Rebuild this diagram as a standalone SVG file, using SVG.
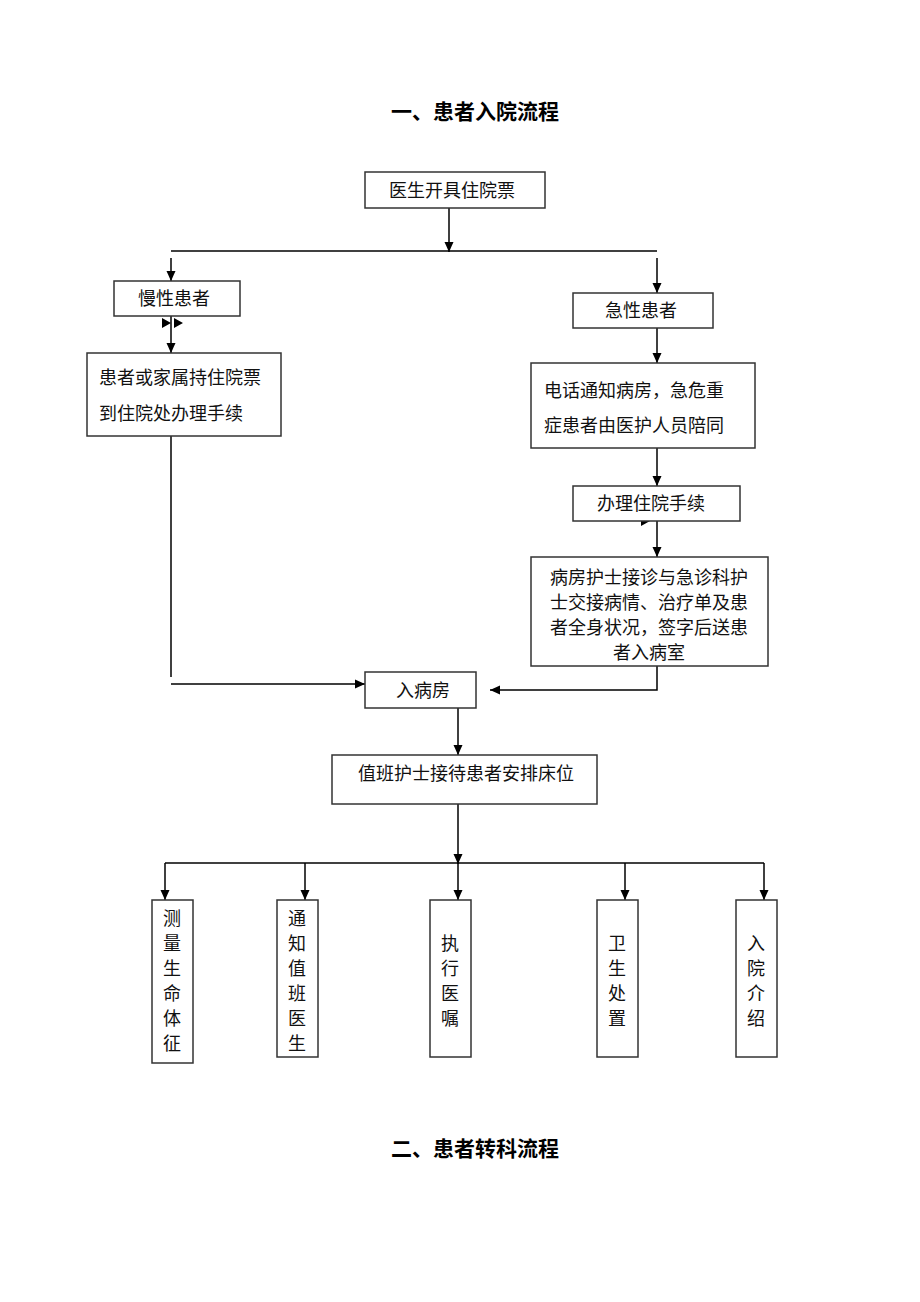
<svg xmlns="http://www.w3.org/2000/svg" width="920" height="1302" viewBox="0 0 920 1302">
<defs>
<marker id="ah" viewBox="0 0 10 10" refX="10" refY="5" markerWidth="10" markerHeight="10" markerUnits="userSpaceOnUse" orient="auto"><path d="M0,0.5 L10,5 L0,9.5 Z" fill="#000"/></marker>
</defs>
<style>
.t{font-family:"Noto Sans CJK SC","Noto Sans",sans-serif;font-size:18px;fill:#111}
.h{font-family:"Noto Sans CJK SC","Noto Sans",sans-serif;font-size:21px;font-weight:bold;fill:#000}
.b{fill:#fff;stroke:#333;stroke-width:1.5}
.c{fill:none;stroke:#000;stroke-width:1.5}
.a{fill:none;stroke:#000;stroke-width:1.5;marker-end:url(#ah)}
</style>
<rect width="920" height="1302" fill="#fff"/>
<text class="h" x="475" y="119" text-anchor="middle">一、患者入院流程</text>
<text class="h" x="475" y="1156" text-anchor="middle">二、患者转科流程</text>

<g id="connectors">
<path class="a" d="M449,208 V252"/>
<path class="c" d="M171,251 H657"/>
<path class="a" d="M171,258 V281"/>
<path class="a" d="M657,258 V293"/>
<path class="a" d="M171,316 V353"/>
<path d="M162,318 L171,323 L162,328 Z M174,318 L183,323 L174,328 Z" fill="#000"/>
<path class="c" d="M171,436 V677"/>
<path class="a" d="M171,684 H365"/>
<path class="a" d="M657,328 V363"/>
<path class="a" d="M657,448 V486"/>
<path d="M641,516 L650,521 L641,526 Z" fill="#000"/>
<path class="a" d="M657,521 V557"/>
<path class="a" d="M657,666 V690 H490"/>
<path class="a" d="M458,708 V755"/>
<path class="a" d="M458,804 V864"/>
<path class="c" d="M165,863 H764"/>
<path class="a" d="M165,863 V900"/>
<path class="a" d="M305,863 V900"/>
<path class="a" d="M458,863 V900"/>
<path class="a" d="M625,863 V900"/>
<path class="a" d="M764,863 V900"/>
</g>

<g id="n1"><rect class="b" x="365" y="172" width="180" height="36"/><text class="t" x="452" y="197" text-anchor="middle">医生开具住院票</text></g>
<g id="n2"><rect class="b" x="114" y="281" width="126" height="35"/><text class="t" x="174" y="305" text-anchor="middle">慢性患者</text></g>
<g id="n3"><rect class="b" x="573" y="293" width="140" height="35"/><text class="t" x="641" y="317" text-anchor="middle">急性患者</text></g>
<g id="n4"><rect class="b" x="87" y="353" width="194" height="83"/><text class="t" x="99" y="384">患者或家属持住院票</text><text class="t" x="99" y="420">到住院处办理手续</text></g>
<g id="n5"><rect class="b" x="531" y="363" width="224" height="85"/><text class="t" x="544" y="397">电话通知病房，急危重</text><text class="t" x="544" y="432">症患者由医护人员陪同</text></g>
<g id="n6"><rect class="b" x="573" y="486" width="167" height="35"/><text class="t" x="651" y="510" text-anchor="middle">办理住院手续</text></g>
<g id="n7"><rect class="b" x="531" y="557" width="237" height="109"/><text class="t" x="649" y="584" text-anchor="middle">病房护士接诊与急诊科护</text><text class="t" x="649" y="609" text-anchor="middle">士交接病情、治疗单及患</text><text class="t" x="649" y="634" text-anchor="middle">者全身状况，签字后送患</text><text class="t" x="649" y="659" text-anchor="middle">者入病室</text></g>
<g id="n8"><rect class="b" x="365" y="672" width="111" height="36"/><text class="t" x="423" y="697" text-anchor="middle">入病房</text></g>
<g id="n9"><rect class="b" x="332" y="755" width="265" height="49"/><text class="t" x="466" y="780" text-anchor="middle">值班护士接待患者安排床位</text></g>
<g id="n10"><rect class="b" x="152" y="900" width="41" height="163"/><text class="t" x="172" text-anchor="middle"><tspan x="172" y="925">测</tspan><tspan x="172" y="950">量</tspan><tspan x="172" y="975">生</tspan><tspan x="172" y="1000">命</tspan><tspan x="172" y="1025">体</tspan><tspan x="172" y="1050">征</tspan></text></g>
<g id="n11"><rect class="b" x="277" y="900" width="41" height="157"/><text class="t" x="297" text-anchor="middle"><tspan x="297" y="925">通</tspan><tspan x="297" y="950">知</tspan><tspan x="297" y="975">值</tspan><tspan x="297" y="1000">班</tspan><tspan x="297" y="1025">医</tspan><tspan x="297" y="1050">生</tspan></text></g>
<g id="n12"><rect class="b" x="430" y="900" width="41" height="157"/><text class="t" x="450" text-anchor="middle"><tspan x="450" y="950">执</tspan><tspan x="450" y="975">行</tspan><tspan x="450" y="1000">医</tspan><tspan x="450" y="1025">嘱</tspan></text></g>
<g id="n13"><rect class="b" x="597" y="900" width="41" height="157"/><text class="t" x="617" text-anchor="middle"><tspan x="617" y="950">卫</tspan><tspan x="617" y="975">生</tspan><tspan x="617" y="1000">处</tspan><tspan x="617" y="1025">置</tspan></text></g>
<g id="n14"><rect class="b" x="736" y="900" width="41" height="157"/><text class="t" x="756" text-anchor="middle"><tspan x="756" y="950">入</tspan><tspan x="756" y="975">院</tspan><tspan x="756" y="1000">介</tspan><tspan x="756" y="1025">绍</tspan></text></g>
</svg>
